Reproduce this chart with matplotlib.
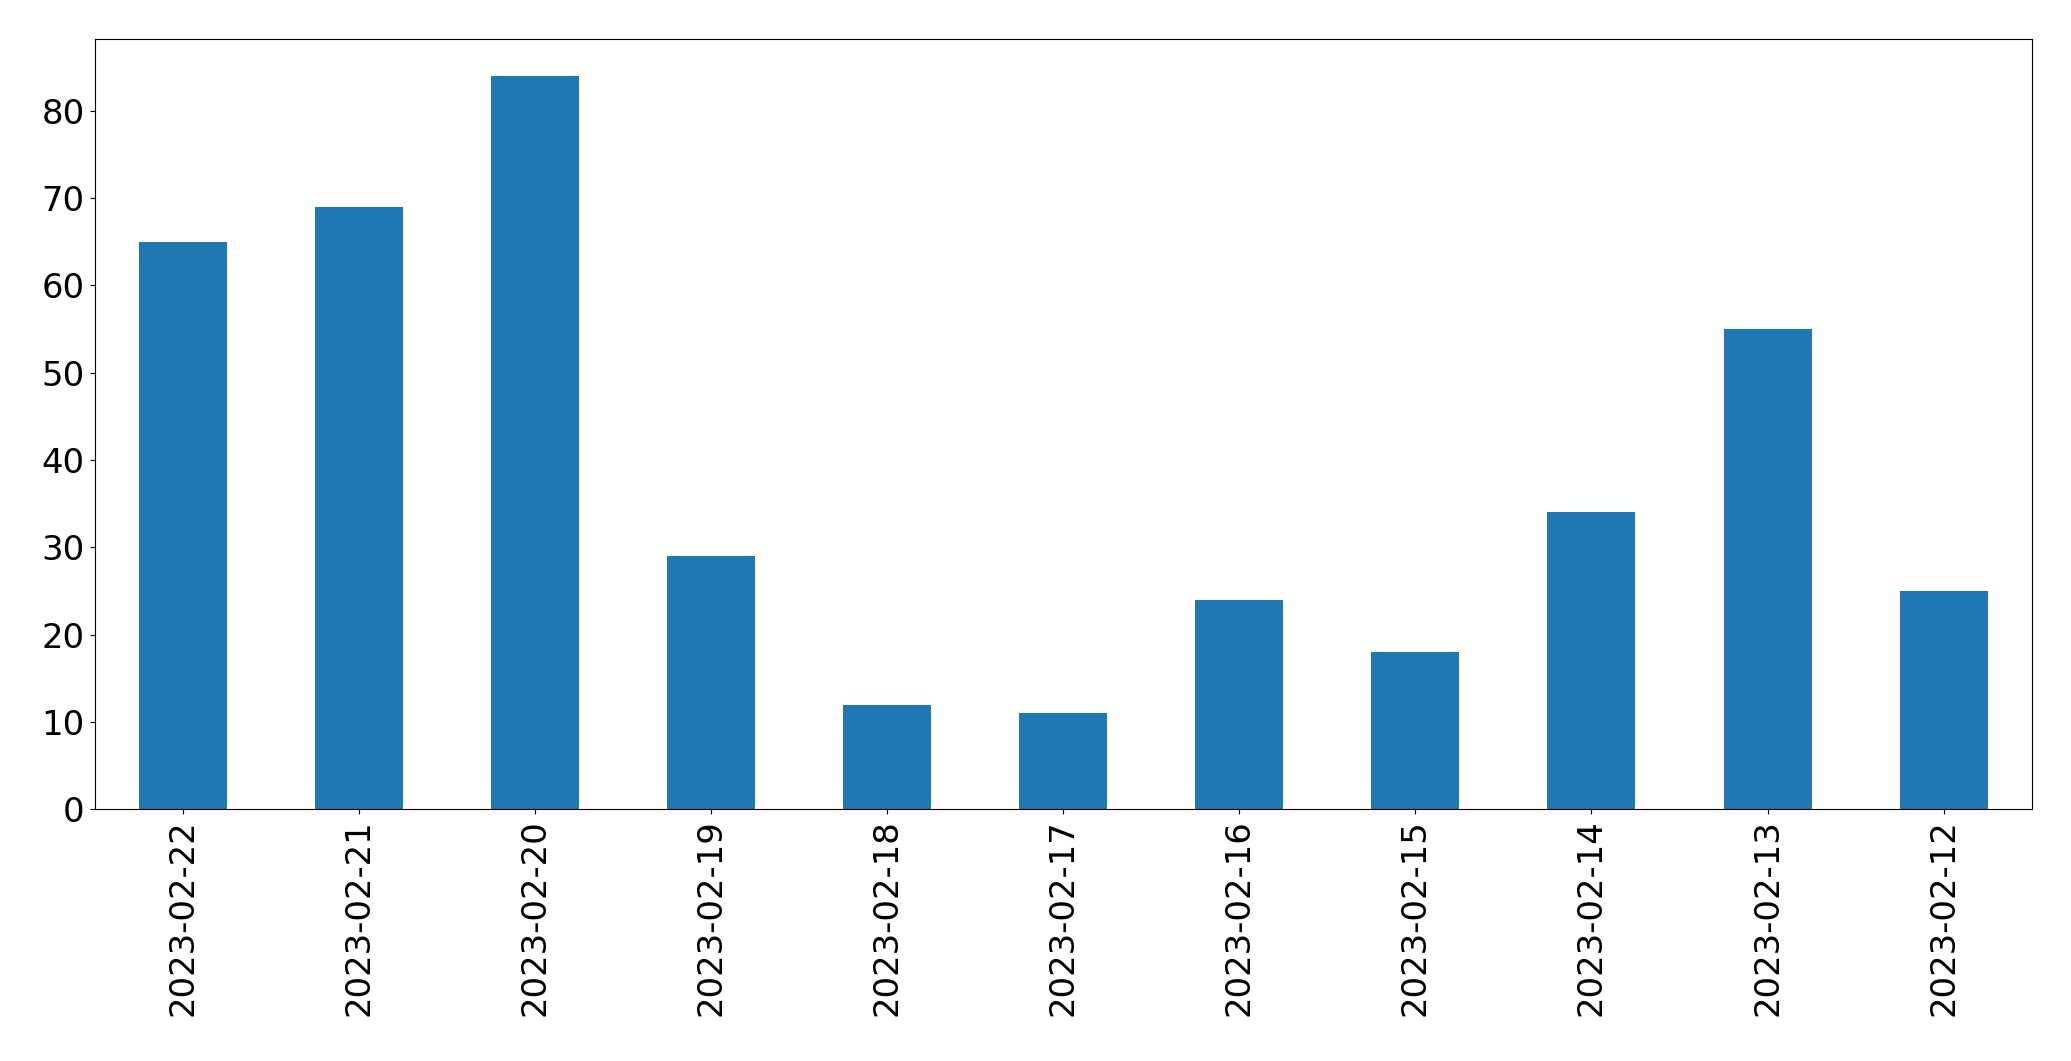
import matplotlib
matplotlib.use("Agg")
import matplotlib.pyplot as plt
import numpy as np

# 每日数量
dates = ['2023-02-22', '2023-02-21', '2023-02-20', '2023-02-19', '2023-02-18', '2023-02-17',
         '2023-02-16', '2023-02-15', '2023-02-14', '2023-02-13', '2023-02-12']
counts = [65, 69, 84, 29, 12, 11, 24, 18, 34, 55, 25]

fig = plt.figure(figsize=(20.71, 10.61), dpi=100)
ax = fig.add_axes([94.7 / 2071, 1 - 809.3 / 1061, (2031.7 - 94.7) / 2071, (809.3 - 39.3) / 1061])

x = np.arange(len(dates))
ax.bar(x, counts, width=0.5, color='#1f77b4')
ax.set_xlim(-0.5, len(dates) - 0.5)
ax.set_ylim(0, max(counts) * 1.05)
ax.set_xticks(x)
ax.set_xticklabels(dates, rotation=90)
ax.tick_params(axis='both', labelsize=24.4, length=3.8)

fig.savefig('out.png', dpi=100)
